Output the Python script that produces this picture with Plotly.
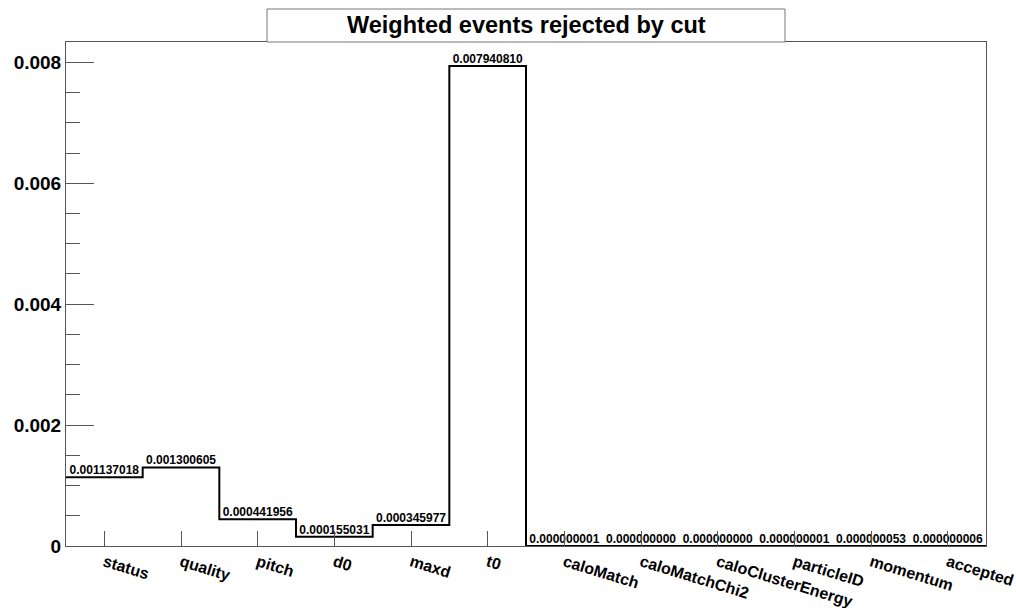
import plotly.graph_objects as go

categories = ["status", "quality", "pitch", "d0", "maxd", "t0", "caloMatch",
              "caloMatchChi2", "caloClusterEnergy", "particleID", "momentum", "accepted"]
values = [0.001137018, 0.001300605, 0.000441956, 0.000155031, 0.000345977, 0.007940810,
          0.000000001, 0.000000000, 0.000000000, 0.000000001, 0.000000053, 0.000000006]
y_tick_vals = [0, 0.002, 0.004, 0.006, 0.008]
y_tick_text = ["0", "0.002", "0.004", "0.006", "0.008"]
title_text = "Weighted events rejected by cut"

n = len(categories)
edges = list(range(n + 1))
centers = [i + 0.5 for i in range(n)]
step_y = values + [values[-1]]
ymax = max(values) * 1.05

FONT = "Liberation Sans, Arial, Helvetica, sans-serif"

fig = go.Figure()
fig.add_trace(go.Scatter(
    x=edges, y=step_y, mode="lines", line_shape="hv",
    line=dict(color="black", width=2), hoverinfo="skip", showlegend=False))
fig.add_trace(go.Scatter(
    x=centers, y=values, mode="text",
    text=[f"{v:.9f}" for v in values], textposition="top center",
    textfont=dict(family=FONT, size=12, color="black", weight="bold"),
    showlegend=False, hoverinfo="skip"))

fig.update_layout(
    width=1016, height=608,
    margin=dict(l=66, r=30, t=42, b=62, autoexpand=False),
    paper_bgcolor="white", plot_bgcolor="white",
    font=dict(family=FONT, color="black"),
)
fig.update_xaxes(
    range=[0, n], tickvals=centers, ticktext=categories, automargin=False,
    tickangle=17, ticks="inside", ticklen=15, tickcolor="#555", tickwidth=1,
    showgrid=False, zeroline=False, showline=True, mirror=True,
    linecolor="#555", linewidth=1,
    tickfont=dict(family=FONT, size=16, color="black", weight="bold"),
)
fig.update_yaxes(
    range=[0, ymax], tickvals=y_tick_vals, ticktext=y_tick_text, automargin=False,
    ticks="inside", ticklen=28, tickcolor="#555", tickwidth=1,
    minor=dict(dtick=0.0005, ticks="inside", ticklen=14, tickcolor="#555", showgrid=False),
    showgrid=False, zeroline=False, showline=True, mirror=True,
    linecolor="#555", linewidth=1,
    tickfont=dict(family=FONT, size=19, color="black", weight="bold"),
)
fig.add_shape(type="rect", xref="paper", yref="paper",
              x0=(267 - 66) / 920, x1=(785 - 66) / 920,
              y0=1.0, y1=1 + 33 / 504,
              line=dict(color="#777", width=1), fillcolor="white", layer="above")
fig.add_annotation(text=title_text, xref="paper", yref="paper",
                   x=(526 - 66) / 920, y=1 + 17 / 504, xanchor="center", yanchor="middle",
                   showarrow=False,
                   font=dict(family=FONT, size=23.5, color="black", weight="bold"))

fig.write_html("out.html", config={"displayModeBar": False},
               post_script="document.body.style.margin='0';document.body.style.overflow='hidden';")
